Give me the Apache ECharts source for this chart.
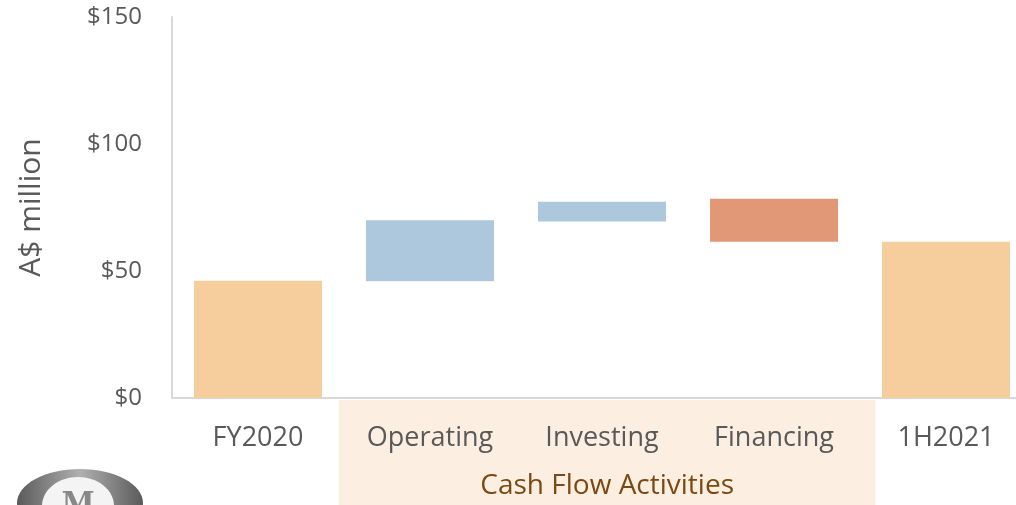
<!DOCTYPE html>
<html>
<head>
<meta charset="utf-8">
<script src="https://cdn.jsdelivr.net/npm/echarts@6/dist/echarts.min.js"></script>
<style>
    html,body{margin:0;padding:0;background:#fff;}
    #chart{width:1016px;height:505px;}
</style>
</head>
<body>
<div id="chart"></div>
<script>
    // 类目和数值（A$ million）
    var categories = ['FY2020', 'Operating', 'Investing', 'Financing', '1H2021'];
    var barLow  = [0, 46, 69.5, 61.5, 0];
    var barHigh = [46.2, 70, 77.3, 78.4, 61.5];
    var barKind = ['total', 'up', 'up', 'down', 'total'];
    var yTicks = [0, 50, 100, 150];
    var groupLabel = 'Cash Flow Activities';
    var groupFrom = 'Operating', groupTo = 'Financing';

    var kindColor = {total: '#F6CE9D', up: '#ADC7DD', down: '#E09877'};
    var font = '"Open Sans", "Noto Sans", sans-serif';

    var baseData = barLow.map(function(v){ return v; });
    var riseData = barHigh.map(function(v, i){
        return {value: v - barLow[i], itemStyle: {color: kindColor[barKind[i]]}};
    });

    var myChart = echarts.init(document.getElementById('chart'), null, {renderer: 'canvas'});
    var option = {
        animation: false,
        grid: {left: 172, width: 860, top: 17, height: 381, outerBoundsMode: 'none', containLabel: false},
        xAxis: {
            type: 'category',
            data: categories,
            axisLine: {lineStyle: {color: '#D9D9D9', width: 2}},
            axisTick: {show: false},
            axisLabel: {color: '#595959', fontSize: 27, fontFamily: font, margin: 27}
        },
        yAxis: {
            type: 'value',
            min: yTicks[0],
            max: yTicks[yTicks.length - 1],
            interval: 50,
            name: 'A$ million',
            nameLocation: 'middle',
            nameGap: 126,
            nameRotate: 90,
            nameTextStyle: {color: '#595959', fontSize: 30, fontFamily: font},
            axisLine: {show: true, lineStyle: {color: '#D9D9D9', width: 2}},
            axisTick: {show: false},
            splitLine: {show: false},
            axisLabel: {
                color: '#595959', fontSize: 24, fontFamily: font, margin: 30,
                formatter: function(v){ return '$' + v; }
            }
        },
        series: [
            {
                type: 'bar', stack: 'wf', data: baseData, barWidth: 128,
                itemStyle: {color: 'rgba(0,0,0,0)'}, silent: true, z: 3
            },
            {
                type: 'bar', stack: 'wf', data: riseData, barWidth: 128, z: 3
            }
        ]
    };
    myChart.setOption(option);

    // 下方“Cash Flow Activities”底色和 logo
    var x0 = myChart.convertToPixel({xAxisIndex: 0}, groupFrom);
    var x1 = myChart.convertToPixel({xAxisIndex: 0}, groupTo);
    var step = myChart.convertToPixel({xAxisIndex: 0}, categories[1]) - myChart.convertToPixel({xAxisIndex: 0}, categories[0]);
    var yAxisPx = myChart.convertToPixel({yAxisIndex: 0}, 0);
    var bandL = x0 - step * 0.53, bandR = x1 + step * 0.59;
    myChart.setOption({
        graphic: [
            {
                type: 'rect', z: -1, silent: true,
                shape: {x: bandL, y: yAxisPx + 2, width: bandR - bandL, height: 505 - yAxisPx},
                style: {fill: '#FCEFE2'}
            },
            {
                type: 'text', z: 5, silent: true,
                x: (bandL + bandR) / 2, y: 486,
                style: {text: groupLabel, fill: '#7B4A12', font: '28px ' + font, textAlign: 'center', textVerticalAlign: 'middle'}
            },
            {
                type: 'ellipse', silent: true,
                shape: {cx: 80, cy: 503, rx: 63, ry: 34},
                style: {fill: new echarts.graphic.LinearGradient(0, 0, 1, 0, [
                    {offset: 0, color: '#5a5a5a'}, {offset: 0.5, color: '#b0b0b0'}, {offset: 1, color: '#5a5a5a'}
                ])}
            },
            {
                type: 'ellipse', silent: true,
                shape: {cx: 78, cy: 506, rx: 36, ry: 29},
                style: {fill: '#f4f4f4'}
            },
            {
                type: 'text', silent: true, x: 78, y: 505,
                style: {text: 'M', fill: '#888', font: 'bold 30px "DejaVu Serif", serif', textAlign: 'center', textVerticalAlign: 'middle'}
            }
        ]
    });
</script>
</body>
</html>
